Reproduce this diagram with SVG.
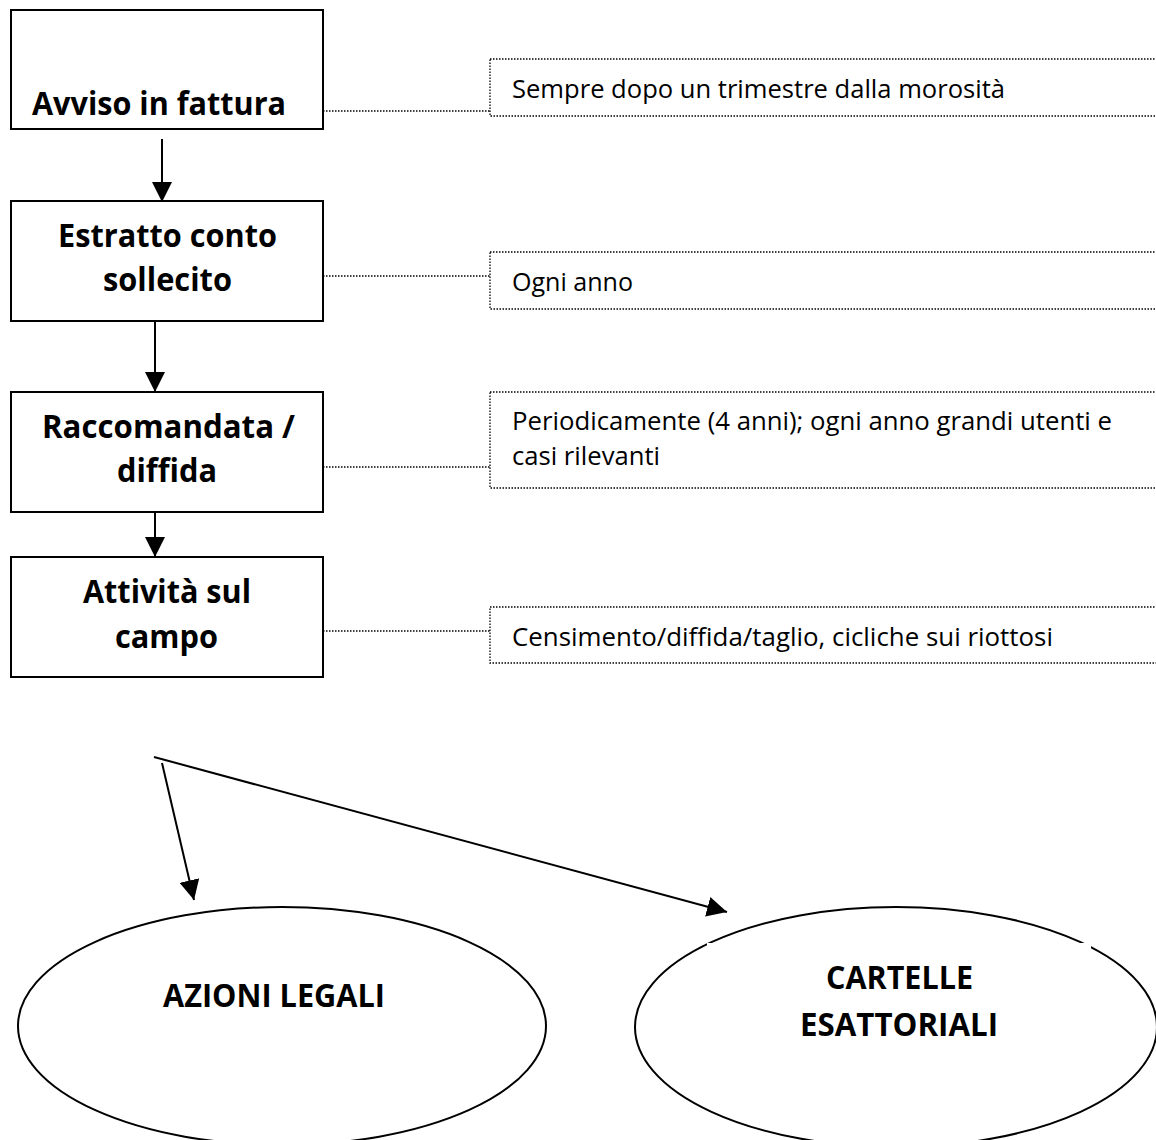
<svg xmlns="http://www.w3.org/2000/svg" width="1156" height="1140" viewBox="0 0 1156 1140">
<defs>
<style>
.box{fill:#fff;stroke:#000;stroke-width:2}
.note{fill:#fff;stroke:#000;stroke-width:1.3;stroke-dasharray:1.5 1.5}
.dot{fill:none;stroke:#000;stroke-width:1.3;stroke-dasharray:1.5 1.5}
.arr{fill:none;stroke:#000;stroke-width:2}
.t{font-family:"Open Sans","DejaVu Sans",sans-serif;font-weight:bold;font-size:33px;fill:#000}
.n{font-family:"Open Sans","DejaVu Sans",sans-serif;font-size:26px;fill:#000}
.ell{fill:#fff;stroke:#000;stroke-width:2}
</style>
<marker id="ah" viewBox="0 0 20 20" refX="20" refY="10" markerWidth="20" markerHeight="20" markerUnits="userSpaceOnUse" orient="auto">
<path d="M0,0 L20,10 L0,20 z" fill="#000"/>
</marker>
</defs>
<rect width="1156" height="1140" fill="#fff"/>

<g id="connectors">
<line class="arr" x1="162" y1="139" x2="162" y2="202" marker-end="url(#ah)"/>
<line class="arr" x1="155" y1="321" x2="155" y2="392" marker-end="url(#ah)"/>
<line class="arr" x1="155" y1="512" x2="155" y2="557" marker-end="url(#ah)"/>
<line class="dot" x1="323" y1="111" x2="490" y2="111"/>
<line class="dot" x1="323" y1="276" x2="490" y2="276"/>
<line class="dot" x1="323" y1="467" x2="490" y2="467"/>
<line class="dot" x1="323" y1="631" x2="490" y2="631"/>
<line class="arr" x1="154" y1="757" x2="727" y2="912" marker-end="url(#ah)"/>
<line class="arr" x1="162" y1="763" x2="194" y2="900" marker-end="url(#ah)"/>
</g>

<g id="n1">
<rect class="box" x="11" y="10" width="312" height="119"/>
<text class="t" x="32" y="115" textLength="254" lengthAdjust="spacingAndGlyphs">Avviso in fattura</text>
</g>
<g id="n2">
<rect class="box" x="11" y="201" width="312" height="120"/>
<text class="t" x="58" y="247" textLength="219" lengthAdjust="spacingAndGlyphs">Estratto conto</text>
<text class="t" x="103" y="291" textLength="129" lengthAdjust="spacingAndGlyphs">sollecito</text>
</g>
<g id="n3">
<rect class="box" x="11" y="392" width="312" height="120"/>
<text class="t" x="42" y="438" textLength="253" lengthAdjust="spacingAndGlyphs">Raccomandata /</text>
<text class="t" x="117" y="482" textLength="100" lengthAdjust="spacingAndGlyphs">diffida</text>
</g>
<g id="n4">
<rect class="box" x="11" y="557" width="312" height="120"/>
<text class="t" x="83" y="603" textLength="168" lengthAdjust="spacingAndGlyphs">Attività sul</text>
<text class="t" x="115" y="648" textLength="103" lengthAdjust="spacingAndGlyphs">campo</text>
</g>

<g id="a1">
<rect class="note" x="490" y="59" width="700" height="57"/>
<text class="n" x="512" y="98" textLength="493" lengthAdjust="spacingAndGlyphs">Sempre dopo un trimestre dalla morosità</text>
</g>
<g id="a2">
<rect class="note" x="490" y="252" width="700" height="57"/>
<text class="n" x="512" y="291" textLength="121" lengthAdjust="spacingAndGlyphs">Ogni anno</text>
</g>
<g id="a3">
<rect class="note" x="490" y="392" width="700" height="96"/>
<text class="n" x="512" y="430" textLength="600" lengthAdjust="spacingAndGlyphs">Periodicamente (4 anni); ogni anno grandi utenti e</text>
<text class="n" x="512" y="465" textLength="148" lengthAdjust="spacingAndGlyphs">casi rilevanti</text>
</g>
<g id="a4">
<rect class="note" x="490" y="607" width="700" height="56"/>
<text class="n" x="512" y="646" textLength="541" lengthAdjust="spacingAndGlyphs">Censimento/diffida/taglio, cicliche sui riottosi</text>
</g>

<g id="e1">
<ellipse class="ell" cx="282" cy="1026" rx="264" ry="119"/>
<text class="t" x="163" y="1007" textLength="222" lengthAdjust="spacingAndGlyphs">AZIONI LEGALI</text>
</g>
<g id="e2">
<ellipse class="ell" cx="896" cy="1027" rx="261" ry="120"/>
<rect x="707" y="943" width="384" height="136" fill="#fff"/>
<text class="t" x="826" y="989" textLength="147" lengthAdjust="spacingAndGlyphs">CARTELLE</text>
<text class="t" x="800" y="1036" textLength="198" lengthAdjust="spacingAndGlyphs">ESATTORIALI</text>
</g>
</svg>
